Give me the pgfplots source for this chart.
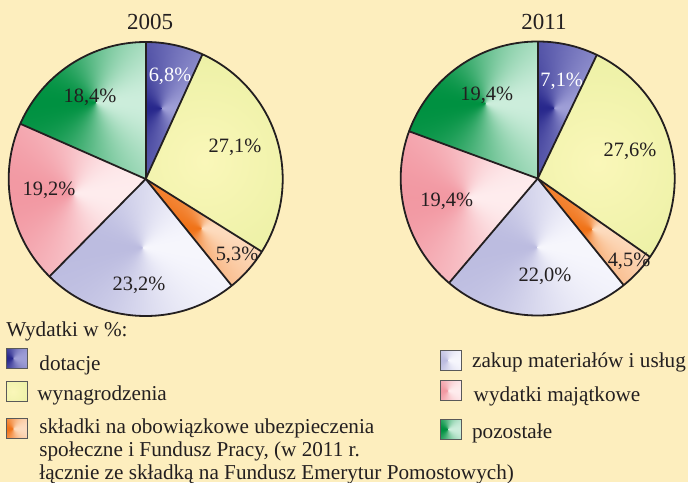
\documentclass[border=0pt]{standalone}
\usepackage{fontspec}
\setmainfont{Liberation Serif}
\usepackage{pgfplots}
\usepackage{pgfplotstable}
\pgfplotsset{compat=1.18}

\definecolor{bg}{RGB}{253,238,190}
\definecolor{ink}{RGB}{35,31,32}
\definecolor{in1}{RGB}{250,247,185} \definecolor{out1}{RGB}{224,235,148}
\definecolor{lab0}{RGB}{255,255,255}
\colorlet{lab1}{ink}\colorlet{lab2}{ink}\colorlet{lab3}{ink}\colorlet{lab4}{ink}\colorlet{lab5}{ink}

% conic shading: light colour to the right of the centre, dark to the left
% #1 name, #2-#4 light rgb, #5-#7 (dark - light) rgb
\newcommand\declconic[7]{%
  \pgfdeclarefunctionalshading{#1}{\pgfpoint{-50bp}{-50bp}}{\pgfpoint{50bp}{50bp}}{}{%
    exch 0.00123 add atan cos neg 1 add 2 div
    dup #5 mul #2 add exch
    dup #6 mul #3 add exch
    #7 mul #4 add}}
\declconic{sh0}{0.620}{0.620}{0.840}{-0.463}{-0.463}{-0.291}
\declconic{sh2}{0.992}{0.860}{0.745}{-0.051}{-0.409}{-0.647}
\declconic{sh3}{0.965}{0.965}{0.990}{-0.228}{-0.228}{-0.112}
\declconic{sh4}{0.995}{0.925}{0.930}{-0.046}{-0.327}{-0.293}
\declconic{sh5}{0.800}{0.930}{0.860}{-0.800}{-0.361}{-0.605}
\pgfdeclareradialshading{sh1}{\pgfpointorigin}{color(0bp)=(in1); color(30bp)=(out1); color(50bp)=(out1)}

% values in %, label positions in px (y measured upward), shading-centre radius (fraction of R)
\pgfplotstableread{
v05  v11  lx05 ly05 lx11  ly11  sr
6.8  7.1  170  406  561.7 400.3 0.53
27.1 27.6 235  335  630   330.3 0.45
5.3  4.5  237  227  629   221   0.54
23.2 22.0 139  197  545   205.3 0.50
19.2 19.4 49   292  446.7 280.3 0.54
18.4 19.4 90   385  486.7 387   0.67
}\piedata

\def\Rlen{68.5pt}
\newcommand\labfont{\fontsize{10.2}{12}\selectfont}
\newcommand\legfont{\fontsize{10.6}{12.7}\selectfont}

\newcommand\drawpie[5]{%
  \gdef\cum{0}%
  \foreach \i in {0,...,5}{%
    \pgfplotstablegetelem{\i}{#1}\of\piedata\let\val\pgfplotsretval
    \pgfplotstablegetelem{\i}{sr}\of\piedata\let\sr\pgfplotsretval
    \pgfmathsetmacro\aone{90-3.6*\cum}%
    \pgfmathsetmacro\atwo{90-3.6*(\cum+\val)}%
    \pgfmathsetmacro\amid{(\aone+\atwo)/2}%
    \begin{scope}
      \clip (axis cs:#2,#3) -- ++(\aone:\Rlen) arc[start angle=\aone,end angle=\atwo,radius=\Rlen] -- cycle;
      \shade[shading=sh\i] (axis cs:#2,#3) ++(\amid:\sr*\Rlen) circle[radius=1.3*\Rlen];
    \end{scope}
    \pgfmathsetmacro\newcum{\cum+\val}\xdef\cum{\newcum}%
  }%
  \gdef\cum{0}%
  \foreach \i in {0,...,5}{%
    \pgfplotstablegetelem{\i}{#1}\of\piedata\let\val\pgfplotsretval
    \pgfplotstablegetelem{\i}{#4}\of\piedata\let\lx\pgfplotsretval
    \pgfplotstablegetelem{\i}{#5}\of\piedata\let\ly\pgfplotsretval
    \pgfmathsetmacro\aone{90-3.6*\cum}%
    \draw[ink,line width=0.9pt] (axis cs:#2,#3) -- ++(\aone:\Rlen);
    \node[text=lab\i,font=\labfont,inner sep=0pt] at (axis cs:\lx,\ly)
      {\pgfmathprintnumber[fixed,fixed zerofill,precision=1,use comma]{\val}\%};
    \pgfmathsetmacro\newcum{\cum+\val}\xdef\cum{\newcum}%
  }%
  \draw[ink,line width=0.9pt] (axis cs:#2,#3) circle[radius=\Rlen];
}

\newcommand\legbox[3]{% #1 colour idx, #2 x, #3 y (lower left)
  \begin{scope}
    \clip (axis cs:#2,#3) rectangle (axis cs:#2+21,#3+20);
    \shade[shading=sh#1] (axis cs:#2+7,#3+10) circle[radius=14pt];
  \end{scope}
  \draw[black!65,line width=0.5pt] (axis cs:#2,#3) rectangle (axis cs:#2+21,#3+20);
}

\begin{document}
\begin{tikzpicture}
\begin{axis}[name=ax, x=0.5pt, y=0.5pt, xmin=0, xmax=688, ymin=0, ymax=482,
  hide axis, clip=false, disabledatascaling,
  /pgf/number format/assume math mode=true]
\pgfplotsextra{%
  \fill[bg] (axis cs:0,0) rectangle (axis cs:688,482);
  \drawpie{v05}{145.7}{303}{lx05}{ly05}
  \drawpie{v11}{537.7}{303.5}{lx11}{ly11}
  \node[anchor=base,inner sep=0pt,text=ink,font=\fontsize{11.5}{13}\selectfont] at (axis cs:150,452) {2005};
  \node[anchor=base,inner sep=0pt,text=ink,font=\fontsize{11.5}{13}\selectfont] at (axis cs:544,452.5) {2011};
  % legend
  \begin{scope}[every node/.style={anchor=base west,inner sep=0pt,text=ink,font=\legfont}]
    \node at (axis cs:6,146) {Wydatki w \%:};
    \legbox{0}{6}{114}
    \node at (axis cs:39,112) {dotacje};
    \legbox{1}{6}{80.5}
    \node at (axis cs:37,81.3) {wynagrodzenia};
    \legbox{2}{6}{43.5}
    \node at (axis cs:39,48.7) {składki na obowiązkowe ubezpieczenia};
    \node at (axis cs:39,25.3) {społeczne i Fundusz Pracy, (w 2011 r.};
    \node at (axis cs:39,3) {łącznie ze składką na Fundusz Emerytur Pomostowych)};
    \legbox{3}{440.7}{112}
    \node at (axis cs:471.7,114.7) {zakup materiałów i usług};
    \legbox{4}{440.7}{81.5}
    \node at (axis cs:473.3,80.3) {wydatki majątkowe};
    \legbox{5}{440.7}{43}
    \node at (axis cs:471.7,43.7) {pozostałe};
  \end{scope}
}
\end{axis}
\pgfresetboundingbox
\useasboundingbox (ax.south west) rectangle (ax.north east);
\end{tikzpicture}
\end{document}
